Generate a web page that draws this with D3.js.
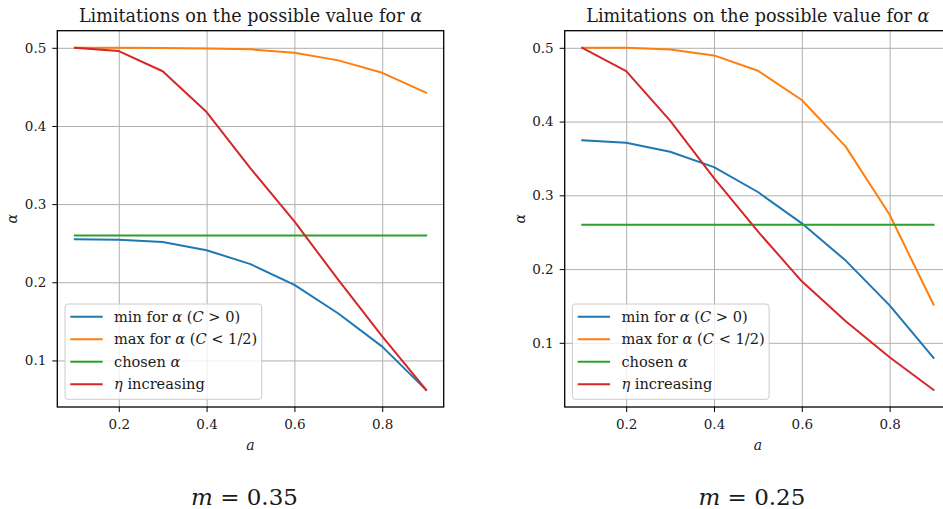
<!DOCTYPE html>
<html>
<head>
<meta charset="utf-8">
<script src="https://cdn.jsdelivr.net/npm/d3@7"></script>
<style>
  html, body { margin: 0; padding: 0; background: #fff; }
  svg { display: block; }
  text { font-family: "DejaVu Serif", serif; fill: #1a1a1a; }
</style>
</head>
<body>
<svg id="fig" width="943" height="509"></svg>
<script>
// Parameter a on the horizontal axis
const aValues = [0.1, 0.2, 0.3, 0.4, 0.5, 0.6, 0.7, 0.8, 0.9];

// m = 0.35
const minAlphaM035 = [0.255, 0.2545, 0.2515, 0.241, 0.2232, 0.1966, 0.160, 0.1177, 0.0623];
const maxAlphaM035 = [0.5, 0.5, 0.4998, 0.4992, 0.498, 0.4936, 0.4839, 0.468, 0.4425];
const chosenM035   = [0.26, 0.26, 0.26, 0.26, 0.26, 0.26, 0.26, 0.26, 0.26];
const etaM035      = [0.5, 0.4958, 0.470, 0.4178, 0.3458, 0.2778, 0.203, 0.1308, 0.0623];

// m = 0.25
const minAlphaM025 = [0.3747, 0.3714, 0.359, 0.3382, 0.3045, 0.262, 0.2115, 0.1508, 0.0795];
const maxAlphaM025 = [0.5, 0.5, 0.4978, 0.4897, 0.4689, 0.4292, 0.366, 0.2736, 0.1518];
const chosenM025   = [0.26, 0.26, 0.26, 0.26, 0.26, 0.26, 0.26, 0.26, 0.26];
const etaM025      = [0.5, 0.4685, 0.4012, 0.3233, 0.251, 0.1834, 0.1292, 0.0805, 0.0362];

// Tick values
const xTicks = [0.2, 0.4, 0.6, 0.8];
const yTicks = [0.1, 0.2, 0.3, 0.4, 0.5];

// Legend labels: segments, italic where they are math symbols
const seriesLabels = [
  [["min for ", 0], ["α", 1], [" (", 0], ["C", 1], [" > 0)", 0]],
  [["max for ", 0], ["α", 1], [" (", 0], ["C", 1], [" < 1/2)", 0]],
  [["chosen ", 0], ["α", 1]],
  [["η", 1], [" increasing", 0]]
];
const seriesColors = ["#1f77b4", "#ff7f0e", "#2ca02c", "#d62728"];

const panels = [
  { left: 57.3, m: "0.35", series: [minAlphaM035, maxAlphaM035, chosenM035, etaM035] },
  { left: 564.7, m: "0.25", series: [minAlphaM025, maxAlphaM025, chosenM025, etaM025] }
];

const svg = d3.select("#fig");
const axW = 386.4, axTop = 30.7, axBottom = 407;

function padded(lo, hi) {
  const p = (hi - lo) * 0.05;
  return [lo - p, hi + p];
}

function drawRich(sel, segs) {
  segs.forEach(([t, it]) => {
    sel.append("tspan").text(t)
      .attr("font-style", it ? "italic" : "normal");
  });
}

panels.forEach(p => {
  const g = svg.append("g");
  const allY = p.series.flat();
  const x = d3.scaleLinear().domain(padded(d3.min(aValues), d3.max(aValues)))
    .range([p.left, p.left + axW]);
  const y = d3.scaleLinear().domain(padded(d3.min(allY), d3.max(allY)))
    .range([axBottom, axTop]);

  // grid
  g.append("g").attr("transform", `translate(0,${axBottom})`)
    .call(d3.axisBottom(x).tickValues(xTicks).tickSize(-(axBottom - axTop)).tickFormat(""))
    .call(s => s.select(".domain").remove())
    .call(s => s.selectAll("line").attr("stroke", "#b0b0b0").attr("stroke-width", 1));
  g.append("g").attr("transform", `translate(${p.left},0)`)
    .call(d3.axisLeft(y).tickValues(yTicks).tickSize(-axW).tickFormat(""))
    .call(s => s.select(".domain").remove())
    .call(s => s.selectAll("line").attr("stroke", "#b0b0b0").attr("stroke-width", 1));

  // series lines
  const line = d3.line().x((d, i) => x(aValues[i])).y(d => y(d));
  p.series.forEach((vals, k) => {
    g.append("path").datum(vals)
      .attr("d", line)
      .attr("fill", "none")
      .attr("stroke", seriesColors[k])
      .attr("stroke-width", 2)
      .attr("stroke-linejoin", "round")
      .attr("stroke-linecap", "square");
  });

  // axes with ticks
  const xa = g.append("g").attr("transform", `translate(0,${axBottom})`)
    .call(d3.axisBottom(x).tickValues(xTicks).tickSize(5).tickPadding(7).tickFormat(d3.format(".1f")));
  xa.select(".domain").remove();
  xa.selectAll("text").attr("font-size", 13.5).attr("font-family", "DejaVu Serif").attr("fill", "#1a1a1a");
  xa.selectAll("line").attr("stroke", "#000").attr("stroke-width", 1);

  const ya = g.append("g").attr("transform", `translate(${p.left},0)`)
    .call(d3.axisLeft(y).tickValues(yTicks).tickSize(5).tickPadding(6).tickFormat(d3.format(".1f")));
  ya.select(".domain").remove();
  ya.selectAll("text").attr("font-size", 13.5).attr("font-family", "DejaVu Serif").attr("fill", "#1a1a1a");
  ya.selectAll("line").attr("stroke", "#000").attr("stroke-width", 1);

  // frame
  g.append("rect")
    .attr("x", p.left).attr("y", axTop)
    .attr("width", axW).attr("height", axBottom - axTop)
    .attr("fill", "none").attr("stroke", "#000").attr("stroke-width", 1.3);

  // title
  const cx = p.left + axW / 2;
  const title = g.append("text").attr("x", cx).attr("y", 22.3)
    .attr("text-anchor", "middle").attr("font-size", 17.6);
  drawRich(title, [["Limitations on the possible value for ", 0], ["α", 1]]);

  // axis labels
  g.append("text").attr("x", cx).attr("y", 450)
    .attr("text-anchor", "middle").attr("font-size", 14).attr("font-style", "italic").text("a");
  g.append("text")
    .attr("transform", `translate(${p.left - 40},${(axTop + axBottom) / 2}) rotate(-90)`)
    .attr("text-anchor", "middle").attr("font-size", 14).attr("font-style", "italic").text("α");

  // legend
  const lx = p.left + 7.7, ly = axBottom - 7.7 - 95.3;
  const lg = g.append("g").attr("transform", `translate(${lx},${ly})`);
  lg.append("rect").attr("width", 196.7).attr("height", 95.3).attr("rx", 3)
    .attr("fill", "#fff").attr("fill-opacity", 0.8)
    .attr("stroke", "#cccccc").attr("stroke-width", 1);
  seriesLabels.forEach((segs, k) => {
    const ry = 12.7 + k * 22.55;
    lg.append("line").attr("x1", 5.3).attr("x2", 37.7).attr("y1", ry).attr("y2", ry)
      .attr("stroke", seriesColors[k]).attr("stroke-width", 2);
    const t = lg.append("text").attr("x", 49).attr("y", ry + 5).attr("font-size", 14.6);
    drawRich(t, segs);
  });

  // panel caption
  const cap = svg.append("text").attr("x", cx - 6).attr("y", 505)
    .attr("text-anchor", "middle").attr("font-size", 23);
  cap.append("tspan").attr("font-style", "italic").text("m");
  cap.append("tspan").text(" = " + p.m);
});
</script>
</body>
</html>
